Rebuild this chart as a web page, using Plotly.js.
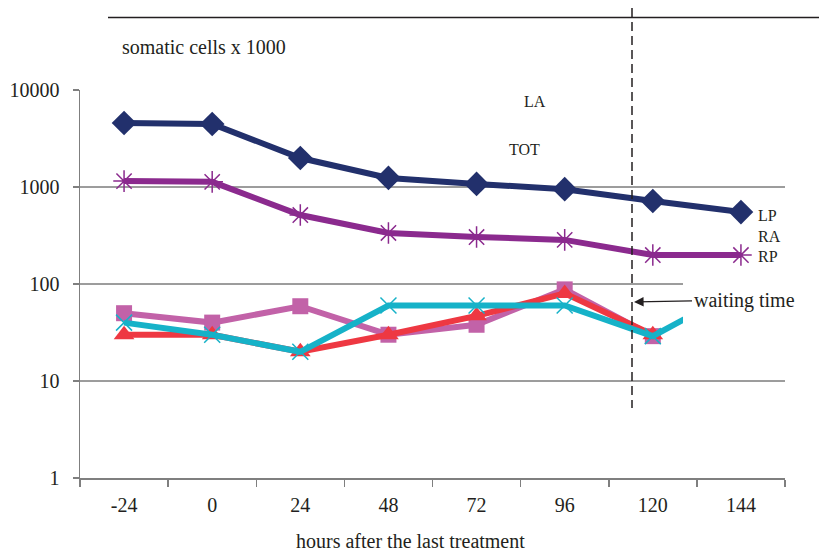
<!DOCTYPE html>
<html>
<head>
<meta charset="utf-8">
<script src="https://cdn.plot.ly/plotly-3.0.1.min.js"></script>
<style>html,body{margin:0;padding:0;background:#fff;}#chart{width:819px;height:555px;}</style>
</head>
<body>
<div id="chart"></div>
<script>
// categories (hours after last treatment)
const hours = ['-24', '0', '24', '48', '72', '96', '120', '144'];
// somatic cells x 1000
const LP  = [4570, 4460, 1990, 1240, 1075, 950, 717, 552];
const TOT = [1150, 1130, 514, 336, 305, 285, 199, 199];
const LA  = [50, 40, 59, 30, 38, 88, 29, null];
const RA  = [30, 30, 20, 30, 47, 80, 30, null];
const RP  = [40, 30, 20, 60, 60, 60, 29, 90];
const yTicks = [1, 10, 100, 1000, 10000];

const serif = 'Liberation Serif, Times New Roman, serif';
const txt = '#231f20';

function line(name, x, y, color, symbol, msize, xaxis, mline) {
  return {
    type: 'scatter', mode: 'lines+markers', name: name, x: x, y: y,
    xaxis: xaxis || 'x', yaxis: 'y',
    line: {color: color, width: 6},
    marker: {symbol: symbol, size: msize, color: color,
             line: mline ? {color: color, width: mline} : {width: 0}},
    showlegend: false, hoverinfo: 'x+y+name'
  };
}

const traces = [
  line('LP', hours, LP, '#22306c', 'diamond', 19),
  line('TOT', hours, TOT, '#8b2a8e', 'asterisk-open', 18, 'x', 1.5),
  line('LA', hours, LA, '#c262a8', 'square', 16, 'x2'),
  line('RA', hours, RA, '#ee3842', 'triangle-up', 18, 'x2'),
  line('RP', hours, RP, '#16b2c8', 'x-thin-open', 16, 'x2', 1.5)
];

const pw = 705; // plot width (px) for paper conversion
const ph = 388;
const clipFrac = (683 - 80) / pw;

const layout = {
  width: 819, height: 555,
  margin: {l: 80, r: 34, t: 90, b: 77},
  paper_bgcolor: '#ffffff', plot_bgcolor: 'rgba(0,0,0,0)',
  font: {family: serif, size: 20, color: txt},
  xaxis: {
    type: 'category', range: [-0.5, 7.5], domain: [0, 1],
    showgrid: false, zeroline: false,
    showline: true, linecolor: '#7f7f7f', linewidth: 1.5,
    ticks: 'outside', tickson: 'boundaries', ticklen: 7, tickcolor: '#7f7f7f', tickwidth: 1.5,
    tickfont: {family: serif, size: 20, color: txt}, ticklabelstandoff: 8,
    fixedrange: true
  },
  xaxis2: {
    type: 'category', range: [-0.5, -0.5 + 8 * clipFrac], domain: [0, clipFrac],
    anchor: 'y', visible: false, fixedrange: true
  },
  yaxis: {
    type: 'log', range: [0, 4], domain: [0, 1],
    tickvals: yTicks, ticktext: yTicks.map(String),
    showgrid: false, zeroline: false,
    showline: true, linecolor: '#7f7f7f', linewidth: 1.5,
    ticks: 'outside', ticklen: 6, tickcolor: '#7f7f7f', tickwidth: 1.5,
    tickfont: {family: serif, size: 20, color: txt}, ticklabelstandoff: 9,
    fixedrange: true
  },
  shapes: [
    // gridlines
    {type: 'line', xref: 'paper', yref: 'paper', x0: 0, x1: 1, y0: 0.25, y1: 0.25, line: {color: '#3a3a3a', width: 1}, layer: 'below'},
    {type: 'line', xref: 'paper', yref: 'paper', x0: 0, x1: clipFrac, y0: 0.5, y1: 0.5, line: {color: '#3a3a3a', width: 1}, layer: 'below'},
    {type: 'line', xref: 'paper', yref: 'paper', x0: 0, x1: 1, y0: 0.75, y1: 0.75, line: {color: '#3a3a3a', width: 1}, layer: 'below'},
    // top rule
    {type: 'line', xref: 'paper', yref: 'paper', x0: (108 - 80) / pw, x1: (819 - 80) / pw, y0: 1 + 72.5 / ph, y1: 1 + 72.5 / ph, line: {color: '#231f20', width: 1.3}},
    // dashed waiting-time marker
    {type: 'line', xref: 'paper', yref: 'paper', x0: (632 - 80) / pw, x1: (632 - 80) / pw, y0: 1 + 82 / ph, y1: 70 / ph, line: {color: '#231f20', width: 1.5, dash: '9px,5px'}}
  ],
  annotations: [
    {xref: 'paper', yref: 'paper', x: (120 - 80) / pw, y: (478 - 47) / ph, xanchor: 'left', yanchor: 'middle', text: 'somatic cells x 1000', showarrow: false, font: {family: serif, size: 20, color: txt}},
    {xref: 'paper', yref: 'paper', x: (410 - 80) / pw, y: (478 - 541) / ph, xanchor: 'center', yanchor: 'middle', text: 'hours after the last treatment', showarrow: false, font: {family: serif, size: 20, color: txt}},
    {xref: 'paper', yref: 'paper', x: (535 - 80) / pw, y: (478 - 101) / ph, xanchor: 'center', yanchor: 'middle', text: 'LA', showarrow: false, font: {family: serif, size: 16, color: txt}},
    {xref: 'paper', yref: 'paper', x: (524 - 80) / pw, y: (478 - 149) / ph, xanchor: 'center', yanchor: 'middle', text: 'TOT', showarrow: false, font: {family: serif, size: 16, color: txt}},
    {xref: 'paper', yref: 'paper', x: (756 - 80) / pw, y: (478 - 215) / ph, xanchor: 'left', yanchor: 'middle', text: 'LP', showarrow: false, font: {family: serif, size: 16, color: txt}},
    {xref: 'paper', yref: 'paper', x: (756 - 80) / pw, y: (478 - 236) / ph, xanchor: 'left', yanchor: 'middle', text: 'RA', showarrow: false, font: {family: serif, size: 16, color: txt}},
    {xref: 'paper', yref: 'paper', x: (756 - 80) / pw, y: (478 - 256) / ph, xanchor: 'left', yanchor: 'middle', text: 'RP', showarrow: false, font: {family: serif, size: 16, color: txt}},
    {xref: 'paper', yref: 'paper', x: (634 - 80) / pw, y: (478 - 302) / ph, text: 'waiting time', showarrow: true,
     ax: 110, ay: -2, arrowhead: 2, arrowsize: 1.6, arrowwidth: 1.2, arrowcolor: '#231f20', standoff: 0,
     font: {family: serif, size: 20, color: txt}}
  ]
};

Plotly.newPlot('chart', traces, layout, {staticPlot: true, displayModeBar: false});
</script>
</body>
</html>
